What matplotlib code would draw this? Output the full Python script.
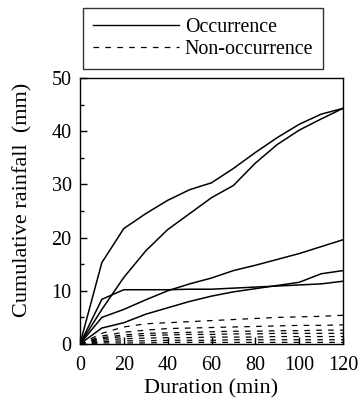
import matplotlib.pyplot as plt
from matplotlib.lines import Line2D

plt.rcParams['font.family'] = ['Liberation Serif', 'DejaVu Serif']

# duration (min)
t = [0, 10, 20, 30, 40, 50, 60, 70, 80, 90, 100, 110, 120]

# occurrence events (cumulative rainfall, mm)
occ1 = [0, 15.3, 21.7, 24.5, 27.0, 29.0, 30.3, 33.0, 36.0, 38.8, 41.3, 43.2, 44.3]
occ2 = [0, 6.5, 12.5, 17.5, 21.5, 24.5, 27.5, 29.8, 34.0, 37.5, 40.2, 42.3, 44.3]
occ3 = [0, 5.0, 6.5, 8.3, 10.0, 11.3, 12.4, 13.8, 14.8, 15.9, 17.0, 18.3, 19.6]
occ4 = [0, 3.0, 4.0, 5.6, 6.8, 8.0, 9.0, 9.8, 10.4, 11.0, 11.6, 13.2, 13.8]
occ5 = [0, 8.4, 10.2, 10.2, 10.2, 10.3, 10.3, 10.5, 10.7, 10.9, 11.1, 11.3, 11.8]

# non-occurrence events
non1 = [0, 2.0, 3.2, 3.8, 4.0, 4.2, 4.4, 4.6, 4.8, 5.0, 5.1, 5.2, 5.4]
non2 = [0, 1.5, 2.2, 2.6, 2.9, 3.0, 3.1, 3.2, 3.3, 3.4, 3.5, 3.5, 3.6]
non3 = [0, 1.2, 1.7, 2.0, 2.1, 2.2, 2.3, 2.4, 2.4, 2.5, 2.5, 2.6, 2.6]
non4 = [0, 1.0, 1.4, 1.6, 1.7, 1.8, 1.8, 1.9, 1.9, 2.0, 2.0, 2.0, 2.0]
non5 = [0, 0.7, 1.0, 1.1, 1.2, 1.2, 1.3, 1.3, 1.3, 1.4, 1.4, 1.4, 1.4]
non6 = [0, 0.4, 0.6, 0.6, 0.7, 0.7, 0.7, 0.8, 0.8, 0.8, 0.8, 0.8, 0.8]
non7 = [0, 0.2, 0.2, 0.2, 0.3, 0.3, 0.3, 0.3, 0.3, 0.3, 0.3, 0.3, 0.3]

dash = (0, (4.5, 5))

fig = plt.figure(figsize=(3.6, 4.0), dpi=100)
ax = fig.add_axes([0.222, 0.14, 0.731, 0.665])

for y in [occ1, occ2, occ3, occ4, occ5]:
    ax.plot(t, y, color='black', lw=1.1)
for y in [non1, non2, non3, non4, non5, non6, non7]:
    ax.plot(t, y, color='black', lw=0.9, ls=dash)

ax.set_xlim(0, 120)
ax.set_ylim(0, 50)
ax.set_xticks([0, 20, 40, 60, 80, 100, 120])
ax.set_yticks([0, 10, 20, 30, 40, 50])
ax.set_yticks([5, 15, 25, 35, 45], minor=True)
ax.tick_params(direction='in', labelsize=14.5, length=5, width=1)
ax.tick_params(axis='x', pad=9)
ax.tick_params(axis='y', pad=6)
ax.tick_params(which='minor', direction='in', length=3, width=1)
ax.set_xlabel('Duration (min)', fontsize=16, labelpad=3)
ax.set_ylabel('Cumulative rainfall  (mm)', fontsize=16)
ax.yaxis.set_label_coords(-0.18, 0.54)
for s in ax.spines.values():
    s.set_linewidth(1.0)

handles = [Line2D([], [], color='black', lw=1.0),
           Line2D([], [], color='black', lw=0.9, ls=dash)]
fig.legend(handles, ['Occurrence', 'Non-occurrence'],
           loc='upper left', bbox_to_anchor=(0.23, 0.98),
           borderaxespad=0, fontsize=14.4, handlelength=4.3,
           handletextpad=0.3, labelspacing=0.15, frameon=True,
           fancybox=False, edgecolor='black', borderpad=0.5)

fig.savefig('out.png', dpi=100)
